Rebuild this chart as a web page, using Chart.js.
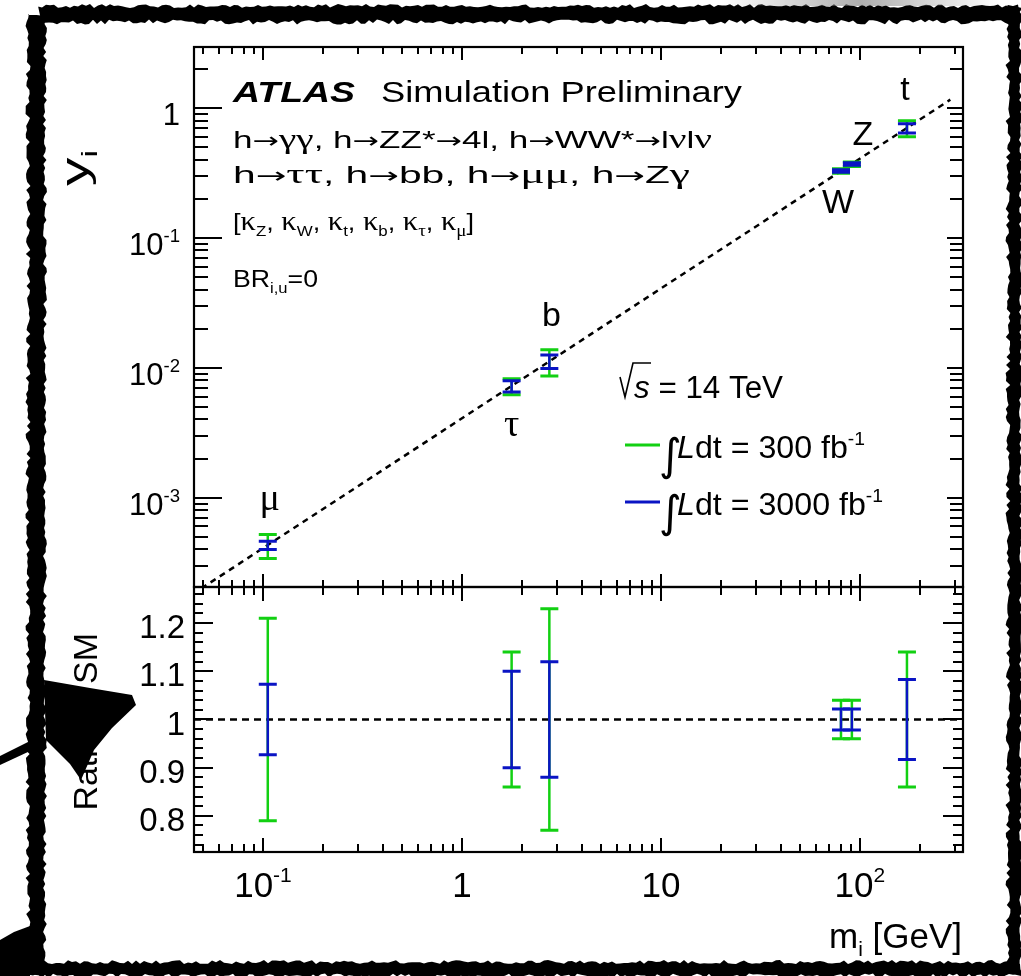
<!DOCTYPE html>
<html>
<head>
<meta charset="utf-8">
<script src="https://cdn.jsdelivr.net/npm/chart.js@4.4.1/dist/chart.umd.min.js"></script>
<style>
html, body { margin: 0; padding: 0; background: #fff; }
#wrap { position: relative; width: 1021px; height: 976px; overflow: hidden; background: #fff; }
#wrap canvas { position: absolute; left: 0; }
</style>
</head>
<body>
<div id="wrap">
  <canvas id="yukawaChart" width="1021" height="592" style="top:0"></canvas>
  <canvas id="ratioChart" width="1021" height="396" style="top:580px"></canvas>
  <canvas id="frame" width="1021" height="976" style="top:0"></canvas>
</div>
<script>
// particles, masses [GeV] and reduced couplings
const particles = ['μ', 'τ', 'b', 'W', 'Z', 't'];
const masses = [0.1057, 1.777, 2.75, 80.4, 91.19, 172.5];
const yukawa = [4.3e-4, 7.22e-3, 1.12e-2, 0.327, 0.370, 0.70];
const ratio = [1, 1, 1, 1, 1, 1];
// relative uncertainties for 300 fb-1 and 3000 fb-1
const err300 = [0.21, 0.14, 0.23, 0.04, 0.04, 0.14];
const err3000 = [0.073, 0.10, 0.12, 0.022, 0.022, 0.083];
// SM expectation line
const smLineX = [0.049, 285];
const smLineY = [2.0e-4, 1.16];
// tick labels
const massTicks = [0.1, 1, 10, 100];
const massTickLabels = ['10^{-1}', '1', '10', '10^{2}'];
const yukawaTicks = [1e-3, 1e-2, 1e-1, 1];
const yukawaTickLabels = ['10^{-3}', '10^{-2}', '10^{-1}', '1'];
const ratioTicks = [0.8, 0.9, 1, 1.1, 1.2];
const ratioTickLabels = ['0.8', '0.9', '1', '1.1', '1.2'];

const GREEN = '#12d012';
const BLUE = '#0a14c4';
const SANS = '"Liberation Sans", Arial, Helvetica, sans-serif';
const SERIF = '"Liberation Serif", "Times New Roman", serif';
const ARROW = '"DejaVu Sans", sans-serif';

// where the particle names sit relative to their point, in px
const labelOffsets = [[2, -35], [0, 50], [2, -35], [-3, 42], [11, -19], [-2, -28]];

// ---- small rich-text helper: ^{sup} _{sub} ~{italic}, greek in serif, arrows in DejaVu
function charKind(c) {
  if (/[\u2190-\u21FF]/.test(c)) return 'arrow';
  if (/[\u0370-\u03FF]/.test(c)) return 'greek';
  return 'latin';
}

function parseRich(str) {
  const runs = [];
  const stack = ['n'];
  for (let i = 0; i < str.length; i++) {
    const c = str[i];
    if ((c === '^' || c === '_' || c === '~') && str[i + 1] === '{') {
      stack.push(c === '^' ? 'sup' : c === '_' ? 'sub' : 'it');
      i++;
      continue;
    }
    if (c === '}' && stack.length > 1) { stack.pop(); continue; }
    const mode = stack[stack.length - 1];
    const kind = charKind(c);
    const last = runs[runs.length - 1];
    if (last && last.mode === mode && last.kind === kind) last.text += c;
    else runs.push({ text: c, mode: mode, kind: kind });
  }
  return runs;
}

function drawRich(ctx, str, x, y, o) {
  const size = o.size;
  const runs = parseRich(str);
  const fontFor = r => {
    let s = (r.mode === 'sup' || r.mode === 'sub') ? size * (o.subScale || 0.62) : size;
    let fam = SANS;
    if (r.kind === 'greek') { fam = SERIF; s *= 1.12; }
    if (r.kind === 'arrow') { fam = ARROW; s *= 0.9; }
    const it = (o.italic || r.mode === 'it') && r.kind === 'latin' ? 'italic ' : '';
    const b = o.bold ? 'bold ' : '';
    return it + b + s.toFixed(1) + 'px ' + fam;
  };
  let w = 0;
  runs.forEach(r => { ctx.font = fontFor(r); r.w = ctx.measureText(r.text).width; w += r.w; });
  const sx = o.fit ? o.fit / w : (o.sx || 1);
  const total = w * sx;
  let start = 0;
  if (o.align === 'right') start = -total;
  else if (o.align === 'center') start = -total / 2;
  ctx.save();
  ctx.fillStyle = o.color || '#000';
  ctx.textBaseline = 'alphabetic';
  ctx.textAlign = 'left';
  ctx.translate(x, y);
  if (o.rotate) ctx.rotate(o.rotate);
  ctx.translate(start, 0);
  ctx.scale(sx, 1);
  let cx = 0;
  runs.forEach(r => {
    ctx.font = fontFor(r);
    let dy = 0;
    if (r.mode === 'sup') dy = -size * (o.supRaise || 0.42);
    if (r.mode === 'sub') dy = size * (o.subDrop || 0.24);
    if (r.kind === 'arrow') dy -= size * 0.02;
    ctx.fillText(r.text, cx, dy);
    cx += r.w;
  });
  ctx.restore();
}

// ---- axes in ATLAS style: frame with ticks pointing inward on all sides
function logTicks(min, max) {
  const out = [];
  for (let e = Math.floor(Math.log10(min)); e <= Math.ceil(Math.log10(max)); e++) {
    for (let m = 1; m <= 9; m++) {
      const v = m * Math.pow(10, e);
      if (v >= min * 0.9999 && v <= max * 1.0001) out.push({ v: v, major: m === 1 });
    }
  }
  return out;
}

function drawFrame(chart, c) {
  const { ctx, chartArea: a } = chart;
  const x = chart.scales.x, y = chart.scales.y;
  ctx.save();
  ctx.strokeStyle = '#000';
  ctx.lineWidth = 2;
  ctx.beginPath();
  logTicks(x.min, x.max).forEach(t => {
    const px = Math.round(x.getPixelForValue(t.v));
    const len = t.major ? c.xMajor : c.xMinor;
    ctx.moveTo(px, a.bottom); ctx.lineTo(px, a.bottom - len);
    ctx.moveTo(px, a.top); ctx.lineTo(px, a.top + len);
  });
  c.yTicks.forEach(t => {
    const py = Math.round(y.getPixelForValue(t.v));
    ctx.moveTo(a.left, py); ctx.lineTo(a.left + (t.major ? c.yLeftMajor : c.yLeftMinor), py);
    ctx.moveTo(a.right, py); ctx.lineTo(a.right - (t.major ? c.yRightMajor : c.yRightMinor), py);
  });
  ctx.stroke();
  ctx.lineWidth = 2.2;
  ctx.strokeRect(a.left, a.top, a.right - a.left, a.bottom - a.top);
  ctx.restore();
}

// vertical error bars with caps, taken from dataset.errors (relative)
const errorBars = {
  id: 'errorBars',
  afterDatasetsDraw(chart) {
    const ctx = chart.ctx, xs = chart.scales.x, ys = chart.scales.y;
    chart.data.datasets.forEach(ds => {
      if (!ds.errors) return;
      ctx.save();
      ctx.strokeStyle = ds.borderColor;
      ds.data.forEach((p, k) => {
        const px = xs.getPixelForValue(p.x);
        const top = ys.getPixelForValue(p.y * (1 + ds.errors[k]));
        const bot = ys.getPixelForValue(p.y * (1 - ds.errors[k]));
        ctx.lineWidth = 2.5;
        ctx.beginPath();
        ctx.moveTo(px, top); ctx.lineTo(px, bot);
        ctx.stroke();
        ctx.lineWidth = 3;
        ctx.beginPath();
        ctx.moveTo(px - 9, top); ctx.lineTo(px + 9, top);
        ctx.moveTo(px - 9, bot); ctx.lineTo(px + 9, bot);
        ctx.stroke();
      });
      ctx.restore();
    });
  }
};

const baseOptions = (padding, xr, yr, yType) => ({
  responsive: false,
  animation: false,
  events: [],
  layout: { padding: padding },
  plugins: { legend: { display: false }, tooltip: { enabled: false } },
  scales: {
    x: { type: 'logarithmic', min: xr[0], max: xr[1], display: false },
    y: { type: yType, min: yr[0], max: yr[1], display: false }
  }
});

// ---- upper panel: y_i versus m_i
const yukawaPoints = masses.map((m, i) => ({ x: m, y: yukawa[i] }));
const yukawaChart = new Chart(document.getElementById('yukawaChart').getContext('2d'), {
  type: 'scatter',
  data: {
    datasets: [
      {
        type: 'line',
        data: smLineX.map((x, i) => ({ x: x, y: smLineY[i] })),
        borderColor: '#000', borderWidth: 2.5, borderDash: [6, 5],
        pointRadius: 0, fill: false
      },
      { label: '300 fb-1', data: yukawaPoints, errors: err300, borderColor: GREEN, pointRadius: 0 },
      { label: '3000 fb-1', data: yukawaPoints, errors: err3000, borderColor: BLUE, pointRadius: 0 }
    ]
  },
  options: baseOptions({ left: 194, right: 58, top: 47, bottom: 5 }, [0.045, 330], [2.05e-4, 2.95], 'logarithmic'),
  plugins: [errorBars, {
    id: 'yukawaDecor',
    afterDraw(chart) {
      const ctx = chart.ctx, xs = chart.scales.x, ys = chart.scales.y;
      drawFrame(chart, {
        xMajor: 13, xMinor: 7,
        yLeftMajor: 28, yLeftMinor: 14, yRightMajor: 16, yRightMinor: 13,
        yTicks: logTicks(ys.min, ys.max)
      });
      yukawaTicks.forEach((v, i) => {
        drawRich(ctx, yukawaTickLabels[i], 180, ys.getPixelForValue(v) + 17, { size: 31, align: 'right', subScale: 0.6 });
      });
      drawRich(ctx, 'y_{i}', 88, 150, { size: 38, rotate: -Math.PI / 2, align: 'right', subScale: 0.6, fit: 36 });

      drawRich(ctx, 'ATLAS', 233, 102, { size: 29, bold: true, italic: true, fit: 122 });
      drawRich(ctx, 'Simulation Preliminary', 381, 102, { size: 29, fit: 361 });
      drawRich(ctx, 'h→γγ, h→ZZ*→4l, h→WW*→lνlν', 233, 148, { size: 24, fit: 479 });
      drawRich(ctx, 'h→ττ, h→bb, h→μμ, h→Zγ', 233, 183, { size: 24, fit: 457 });
      drawRich(ctx, '[κ_{Z}, κ_{W}, κ_{t}, κ_{b}, κ_{τ}, κ_{μ}]', 233, 230, { size: 24, fit: 241 });
      drawRich(ctx, 'BR_{i,u}=0', 233, 287, { size: 24, fit: 85 });

      particles.forEach((p, i) => {
        const px = xs.getPixelForValue(masses[i]) + labelOffsets[i][0];
        const py = ys.getPixelForValue(yukawa[i]) + labelOffsets[i][1];
        drawRich(ctx, p, px, py, { size: 34, align: 'center' });
      });

      // centre-of-mass energy and luminosity legend
      ctx.save();
      ctx.strokeStyle = '#000';
      ctx.lineWidth = 1.6;
      ctx.beginPath();
      ctx.moveTo(620, 377); ctx.lineTo(625, 397); ctx.lineTo(633, 363); ctx.lineTo(651, 363);
      ctx.stroke();
      ctx.restore();
      drawRich(ctx, '~{s} = 14 TeV', 634, 398, { size: 31, fit: 149 });

      [[GREEN, 445, 458, '~{L}dt = 300 fb^{-1}', 188], [BLUE, 502, 515, '~{L}dt = 3000 fb^{-1}', 206]].forEach(e => {
        ctx.save();
        ctx.strokeStyle = e[0];
        ctx.lineWidth = 3;
        ctx.beginPath();
        ctx.moveTo(625, e[1]); ctx.lineTo(660, e[1]);
        ctx.stroke();
        ctx.fillStyle = '#000';
        ctx.font = '44px "DejaVu Sans", sans-serif';
        ctx.fillText('∫', 659, e[2] + 12);
        ctx.restore();
        drawRich(ctx, e[3], 677, e[2], { size: 31, fit: e[4], subScale: 0.6 });
      });
    }
  }]
});

// ---- lower panel: ratio to the SM expectation
const ratioPoints = masses.map((m, i) => ({ x: m, y: ratio[i] }));
const ratioMinor = [];
for (let k = 37; k <= 63; k++) ratioMinor.push({ v: k / 50, major: k % 5 === 0 });

const ratioChart = new Chart(document.getElementById('ratioChart').getContext('2d'), {
  type: 'scatter',
  data: {
    datasets: [
      {
        type: 'line',
        data: [{ x: 0.045, y: 1 }, { x: 330, y: 1 }],
        borderColor: '#000', borderWidth: 2.5, borderDash: [7, 5],
        pointRadius: 0, fill: false
      },
      { label: '300 fb-1', data: ratioPoints, errors: err300, borderColor: GREEN, pointRadius: 0 },
      { label: '3000 fb-1', data: ratioPoints, errors: err3000, borderColor: BLUE, pointRadius: 0 }
    ]
  },
  options: baseOptions({ left: 194, right: 58, top: 7, bottom: 124 }, [0.045, 330], [0.725, 1.275], 'linear'),
  plugins: [errorBars, {
    id: 'ratioDecor',
    afterDraw(chart) {
      const ctx = chart.ctx, xs = chart.scales.x, ys = chart.scales.y;
      drawFrame(chart, {
        xMajor: 14, xMinor: 8,
        yLeftMajor: 19, yLeftMinor: 9, yRightMajor: 20, yRightMinor: 10,
        yTicks: ratioMinor
      });
      ratioTicks.forEach((v, i) => {
        drawRich(ctx, ratioTickLabels[i], 185, ys.getPixelForValue(v) + 15, { size: 33, align: 'right' });
      });
      massTicks.forEach((v, i) => {
        drawRich(ctx, massTickLabels[i], xs.getPixelForValue(v), 897 - 580, { size: 35, align: 'center', subScale: 0.6 });
      });
      drawRich(ctx, 'm_{i} [GeV]', 962, 948 - 580, { size: 35, align: 'right', subScale: 0.6 });
      drawRich(ctx, 'Ratio to SM', 97, 633 - 580, { size: 34, rotate: -Math.PI / 2, align: 'right' });
    }
  }]
});

// ---- hand-drawn black border round the figure
(function drawBorder() {
  const ctx = document.getElementById('frame').getContext('2d');
  const wob = i => { const s = Math.sin(i * 91.345 + 7.1) * 43758.5453; return s - Math.floor(s); };
  ctx.fillStyle = '#000';
  let k = 0;
  function hBand(x0, x1, yA, yB) {
    ctx.beginPath();
    ctx.moveTo(x0, yA);
    for (let x = x0; x <= x1; x += 4) ctx.lineTo(x, yA + (wob(k++) - 0.5) * 4);
    ctx.lineTo(x1, yB);
    for (let x = x1; x >= x0; x -= 4) ctx.lineTo(x, yB + (wob(k++) - 0.5) * 5);
    ctx.closePath();
    ctx.fill();
  }
  function vBand(y0, y1, xA, xB) {
    ctx.beginPath();
    ctx.moveTo(xA, y0);
    for (let y = y0; y <= y1; y += 4) ctx.lineTo(xA + (wob(k++) - 0.5) * 5, y);
    ctx.lineTo(xB, y1);
    for (let y = y1; y >= y0; y -= 4) ctx.lineTo(xB + (wob(k++) - 0.5) * 4, y);
    ctx.closePath();
    ctx.fill();
  }
  hBand(38, 1021, 6, 22);
  vBand(14, 976, 28, 45);
  vBand(5, 976, 1008, 1021);
  hBand(0, 1021, 962, 976);

  // arrow-like smudge on the left edge
  ctx.beginPath();
  ctx.moveTo(44, 680); ctx.lineTo(90, 688); ctx.lineTo(132, 695); ctx.lineTo(136, 705);
  ctx.lineTo(112, 728); ctx.lineTo(94, 750); ctx.lineTo(81, 780); ctx.lineTo(70, 764);
  ctx.lineTo(46, 740);
  ctx.closePath();
  ctx.fill();
  ctx.beginPath();
  ctx.moveTo(0, 756); ctx.lineTo(40, 736); ctx.lineTo(43, 745); ctx.lineTo(0, 765);
  ctx.closePath();
  ctx.fill();
  // corner smudge bottom left
  ctx.beginPath();
  ctx.moveTo(0, 940); ctx.lineTo(14, 932); ctx.lineTo(30, 926); ctx.lineTo(30, 976); ctx.lineTo(0, 976);
  ctx.closePath();
  ctx.fill();
  // faint grey smear above the top edge
  const g = ctx.createLinearGradient(720, 0, 1000, 0);
  g.addColorStop(0, 'rgba(120,120,120,0)');
  g.addColorStop(0.5, 'rgba(120,120,120,0.6)');
  g.addColorStop(1, 'rgba(120,120,120,0)');
  ctx.fillStyle = g;
  ctx.fillRect(720, 0, 280, 6);
})();
</script>
</body>
</html>
